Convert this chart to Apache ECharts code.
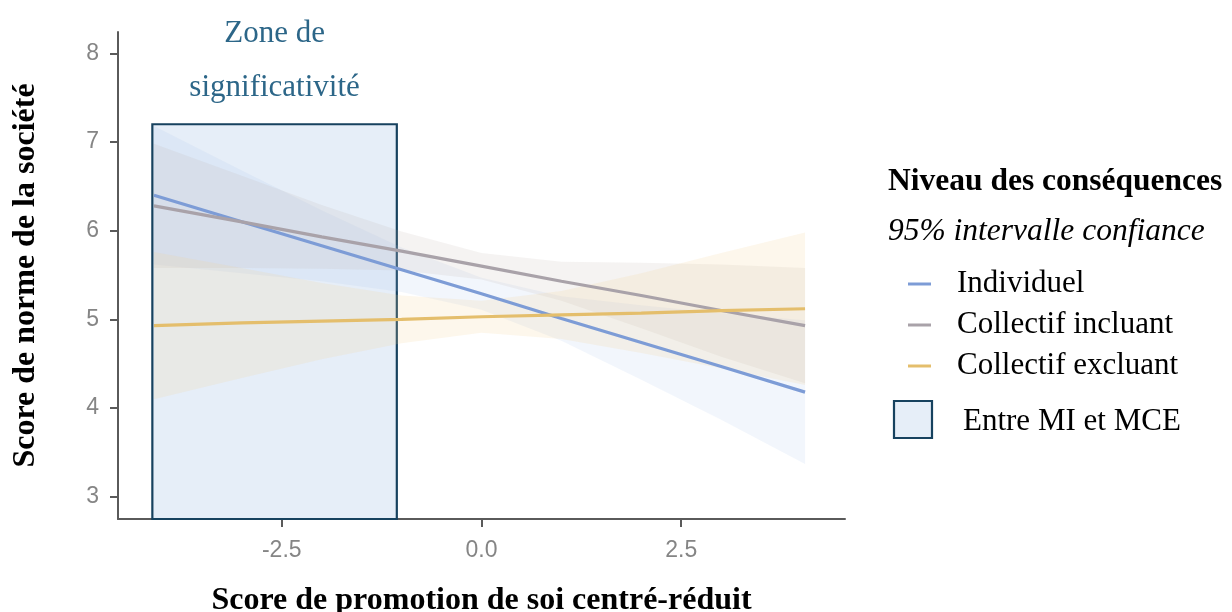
<!DOCTYPE html>
<html>
<head>
<meta charset="utf-8">
<script src="https://cdn.jsdelivr.net/npm/echarts@6/dist/echarts.min.js"></script>
<style>html,body{margin:0;padding:0;background:#fff}#c{width:1232px;height:612px}</style>
</head>
<body>
<div id="c"></div>
<script>
// ---- data ----
const xs = [-4.1, -3, -2, -1, 0, 1, 2, 3, 4.05];
const seriesNames = ['Individuel', 'Collectif incluant', 'Collectif excluant'];
const indivFit = [6.40, 6.10, 5.83, 5.56, 5.29, 5.01, 4.74, 4.47, 4.18];
const indivLow = [5.62, 5.52, 5.43, 5.31, 5.11, 4.76, 4.32, 3.87, 3.37];
const indivHigh = [7.18, 6.68, 6.23, 5.81, 5.47, 5.26, 5.16, 5.07, 4.99];
const inclFit = [6.28, 6.10, 5.93, 5.77, 5.60, 5.43, 5.27, 5.10, 4.93];
const inclLow = [5.58, 5.58, 5.57, 5.55, 5.45, 5.21, 4.90, 4.58, 4.28];
const inclHigh = [6.98, 6.62, 6.29, 5.99, 5.75, 5.65, 5.64, 5.62, 5.58];
const exclFit = [4.93, 4.96, 4.98, 5.00, 5.03, 5.05, 5.07, 5.10, 5.12];
const exclLow = [4.10, 4.34, 4.55, 4.73, 4.85, 4.78, 4.62, 4.45, 4.26];
const exclHigh = [5.76, 5.58, 5.41, 5.27, 5.21, 5.32, 5.52, 5.75, 5.98];
const zoneX = [-4.12, -1.06];
const zoneTop = 7.2;
const yTicks = [3, 4, 5, 6, 7, 8];
const xTicks = [-2.5, 0, 2.5];

const lineColors = ['#7d9cd6', '#a9a2a9', '#e4be6c'];
const bandColors = ['rgba(168,196,238,0.15)', 'rgba(185,172,168,0.15)', 'rgba(246,210,150,0.18)'];
const fits = [indivFit, inclFit, exclFit];
const lows = [indivLow, inclLow, exclLow];
const highs = [indivHigh, inclHigh, exclHigh];

const serif = '"Liberation Serif", "Times New Roman", serif';
const sans = '"Liberation Sans", Arial, sans-serif';

const series = [];
// zone of significance
series.push({
  name: '_zone', type: 'line', data: [], z: 1, silent: true,
  markArea: {
    silent: true,
    itemStyle: { color: '#e6eef8', borderColor: '#17425f', borderWidth: 2.2 },
    label: {
      show: true, position: 'top', distance: 8,
      formatter: 'Zone de\nsignificativité',
      fontFamily: serif, fontSize: 31, lineHeight: 54, color: '#2c6688', align: 'center'
    },
    data: [[{ coord: [zoneX[0], zoneTop] }, { coord: [zoneX[1], 2.75] }]]
  }
});
// confidence ribbons
for (let i = 0; i < 3; i++) {
  series.push({
    name: '_band' + i, type: 'custom', z: 2, silent: true,
    data: [[xs[0], lows[i][0]]],
    renderItem: function (params, api) {
      const up = xs.map((x, k) => api.coord([x, highs[i][k]]));
      const dn = xs.map((x, k) => api.coord([x, lows[i][k]])).reverse();
      return {
        type: 'polygon',
        shape: { points: up.concat(dn) },
        style: { fill: bandColors[i], stroke: null }
      };
    }
  });
}
// fitted lines
for (let i = 0; i < 3; i++) {
  series.push({
    name: seriesNames[i], type: 'line', z: 3, symbol: 'none',
    color: lineColors[i],
    lineStyle: { width: 3.2, color: lineColors[i] },
    data: xs.map((x, k) => [x, fits[i][k]])
  });
}

const chart = echarts.init(document.getElementById('c'), null, { renderer: 'canvas' });
chart.setOption({
  animation: false,
  backgroundColor: '#ffffff',
  grid: { left: 118, right: 387, top: 32, bottom: 93, containLabel: false, outerBoundsMode: 'none' },
  xAxis: {
    type: 'value', min: -4.55, max: 4.55,
    name: 'Score de promotion de soi centré-réduit',
    nameLocation: 'middle', nameGap: 66,
    nameTextStyle: { fontFamily: serif, fontSize: 32, fontWeight: 'bold', color: '#000' },
    axisLine: { show: true, onZero: false, lineStyle: { color: '#5a5a5a', width: 2 } },
    axisTick: { show: true, length: 8, lineStyle: { color: '#5a5a5a', width: 2 }, customValues: xTicks },
    axisLabel: { fontFamily: sans, fontSize: 23, color: '#858585', margin: 20, customValues: xTicks,
      formatter: v => v.toFixed(1) },
    splitLine: { show: false }
  },
  yAxis: {
    type: 'value', min: 2.75, max: 8.24,
    name: 'Score de norme de la société',
    nameLocation: 'middle', nameGap: 76, nameRotate: 90,
    nameTextStyle: { fontFamily: serif, fontSize: 32, fontWeight: 'bold', color: '#000' },
    axisLine: { show: true, onZero: false, lineStyle: { color: '#5a5a5a', width: 2 } },
    axisTick: { show: true, length: 8, lineStyle: { color: '#5a5a5a', width: 2 }, customValues: yTicks },
    axisLabel: { fontFamily: sans, fontSize: 23, color: '#858585', margin: 19, customValues: yTicks },
    splitLine: { show: false }
  },
  legend: {
    data: seriesNames,
    orient: 'vertical', left: 903, top: 263,
    icon: 'rect', itemWidth: 23, itemHeight: 3, itemGap: 9,
    textStyle: { fontFamily: serif, fontSize: 31, lineHeight: 32, color: '#000', padding: [0, 0, 0, 21] },
    selectedMode: false
  },
  graphic: [
    { type: 'text', left: 888, top: 166, style: { text: 'Niveau des conséquences', font: 'bold 31.5px ' + serif, fill: '#000' } },
    { type: 'text', left: 888, top: 216, style: { text: '95% intervalle confiance', font: 'italic 31.5px ' + serif, fill: '#000' } },
    { type: 'rect', shape: { x: 894, y: 401, width: 38, height: 37 }, style: { fill: '#e6eef8', stroke: '#17425f', lineWidth: 2.2 } },
    { type: 'text', left: 963, top: 406, style: { text: 'Entre MI et MCE', font: '31px ' + serif, fill: '#000' } }
  ],
  series: series
});
</script>
</body>
</html>
